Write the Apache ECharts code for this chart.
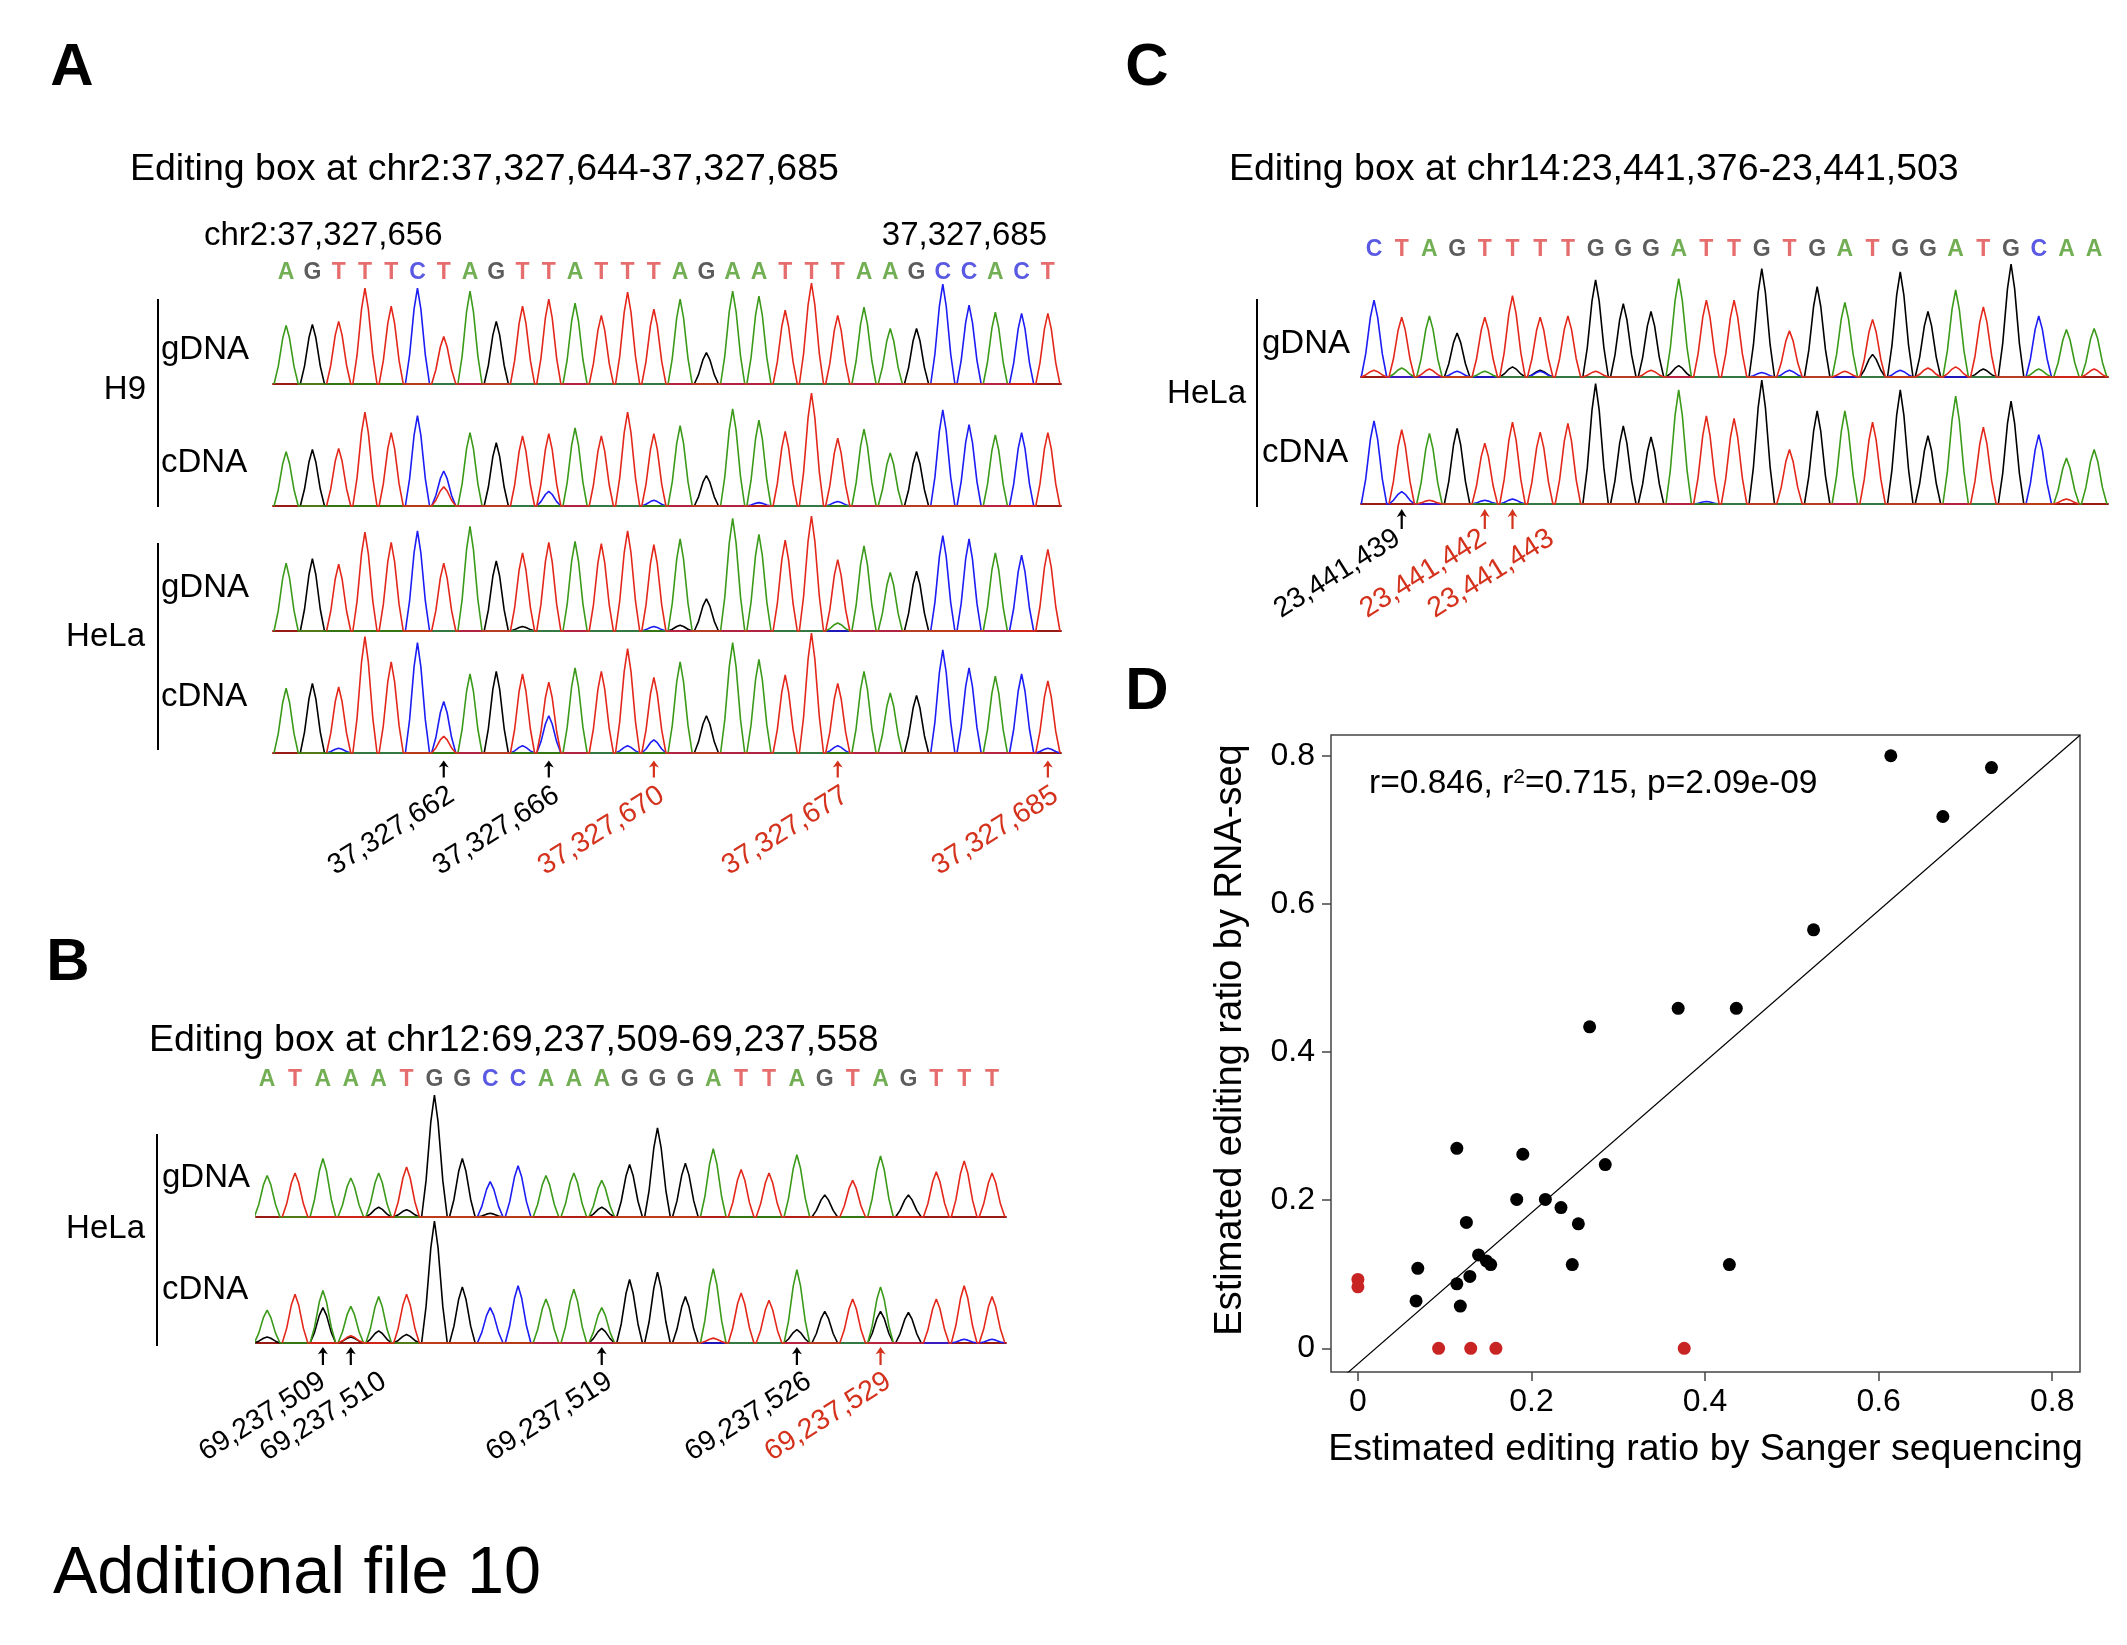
<!DOCTYPE html>
<html>
<head>
<meta charset="utf-8">
<script src="https://cdn.jsdelivr.net/npm/echarts@6/dist/echarts.min.js"></script>
<style>
  html, body { margin: 0; padding: 0; background: #fff; }
  #main { width: 2127px; height: 1645px; }
</style>
</head>
<body>
<div id="main"></div>
<script>
// ---- data: panel A (chr2) ----
const seqA = 'AGTTTCTAGTTATTTAGAATTTAAGCCACT';
const h9GdnaA = [0.58,0.59,0.62,0.95,0.77,0.95,0.47,0.92,0.62,0.77,0.84,0.80,0.68,0.91,0.74,0.84,0.31,0.92,0.87,0.73,1.00,0.68,0.76,0.55,0.55,0.99,0.78,0.71,0.70,0.70];
const h9CdnaA = [0.48,0.50,0.51,0.83,0.65,0.80,0.17,0.65,0.56,0.62,0.64,0.69,0.62,0.83,0.64,0.71,0.27,0.86,0.76,0.66,1.00,0.60,0.68,0.47,0.48,0.85,0.72,0.63,0.65,0.65];
const h9CdnaMinorA = [[7,'C',0.31],[11,'C',0.13],[15,'C',0.05],[19,'C',0.03],[22,'C',0.04]];
const helaGdnaA = [0.59,0.63,0.58,0.86,0.77,0.87,0.59,0.91,0.61,0.68,0.77,0.78,0.76,0.87,0.75,0.80,0.28,0.98,0.84,0.79,1.00,0.62,0.74,0.51,0.52,0.83,0.80,0.68,0.66,0.71];
const helaGdnaMinorA = [[10,'G',0.04],[15,'C',0.04],[16,'G',0.05],[22,'A',0.07]];
const helaCdnaA = [0.54,0.58,0.55,0.97,0.76,0.92,0.14,0.66,0.68,0.66,0.59,0.71,0.68,0.87,0.63,0.76,0.31,0.92,0.78,0.65,1.00,0.58,0.68,0.50,0.48,0.86,0.71,0.64,0.66,0.60];
const helaCdnaMinorA = [[3,'C',0.04],[7,'C',0.43],[10,'C',0.06],[11,'C',0.31],[14,'C',0.06],[15,'C',0.11],[22,'C',0.06],[30,'C',0.04]];
const sitesA = [[7,'37,327,662',false],[11,'37,327,666',false],[15,'37,327,670',true],[22,'37,327,677',true],[30,'37,327,685',true]];

// ---- data: panel B (chr12) ----
const seqB = 'ATAAATGGCCAAAGGGATTAGTAGTTT';
const gdnaB = [0.34,0.36,0.48,0.32,0.36,0.41,1.00,0.48,0.29,0.42,0.34,0.36,0.30,0.43,0.73,0.44,0.56,0.39,0.36,0.51,0.18,0.30,0.50,0.18,0.37,0.46,0.36];
const gdnaMinorB = [[5,'G',0.08],[6,'G',0.06],[9,'G',0.03],[13,'G',0.08]];
const cdnaB = [0.27,0.40,0.43,0.30,0.38,0.40,1.00,0.46,0.29,0.47,0.36,0.44,0.29,0.52,0.58,0.38,0.61,0.41,0.35,0.60,0.26,0.36,0.46,0.25,0.36,0.47,0.38];
const cdnaMinorB = [[1,'G',0.05],[3,'G',0.29],[4,'G',0.05],[4,'T',0.06],[5,'G',0.10],[6,'G',0.07],[13,'G',0.12],[17,'T',0.04],[20,'G',0.11],[23,'G',0.26],[26,'C',0.03],[27,'C',0.03]];
const sitesB = [[3,'69,237,509',false],[4,'69,237,510',false],[13,'69,237,519',false],[20,'69,237,526',false],[23,'69,237,529',true]];

// ---- data: panel C (chr14) ----
const seqC = 'CTAGTTTTGGGATTGTGATGGATGCAA';
const gdnaC = [0.68,0.53,0.54,0.39,0.53,0.72,0.53,0.54,0.86,0.65,0.58,0.87,0.68,0.68,0.96,0.41,0.80,0.66,0.51,0.93,0.58,0.77,0.62,1.00,0.54,0.42,0.43];
const gdnaMinorC = [[1,'T',0.06],[2,'A',0.08],[3,'T',0.07],[4,'C',0.05],[5,'A',0.05],[6,'G',0.09],[7,'G',0.06],[7,'C',0.05],[9,'T',0.05],[11,'T',0.06],[12,'G',0.10],[15,'C',0.04],[16,'C',0.06],[18,'T',0.05],[19,'G',0.20],[20,'C',0.06],[21,'T',0.08],[22,'T',0.09],[23,'G',0.07],[25,'A',0.07],[27,'T',0.07]];
const cdnaC = [0.67,0.60,0.57,0.61,0.49,0.66,0.58,0.65,0.97,0.63,0.54,0.92,0.71,0.69,1.00,0.44,0.75,0.75,0.66,0.92,0.55,0.87,0.62,0.83,0.56,0.37,0.44];
const cdnaMinorC = [[2,'C',0.10],[3,'T',0.03],[5,'C',0.03],[6,'C',0.04],[13,'C',0.02],[26,'T',0.04]];
const sitesC = [[2,'23,441,439',false],[5,'23,441,442',true],[6,'23,441,443',true]];

// ---- data: panel D (scatter) ----
const sangerBlack = [0.614,0.730,0.674,0.525,0.369,0.436,0.267,0.114,0.190,0.285,0.183,0.216,0.234,0.125,0.254,0.139,0.148,0.153,0.247,0.428,0.069,0.129,0.114,0.067,0.118];
const rnaBlack    = [0.800,0.784,0.718,0.565,0.459,0.459,0.434,0.270,0.262,0.248,0.201,0.201,0.190,0.170,0.168,0.126,0.118,0.113,0.113,0.113,0.108,0.097,0.087,0.064,0.057];
const sangerRed = [0, 0, 0.093, 0.130, 0.159, 0.376];
const rnaRed    = [0.093, 0.083, 0, 0, 0, 0];
const ticksD = [0, 0.2, 0.4, 0.6, 0.8];
const fitD = [-0.021, 1.02];   // intercept, slope

// ---- styles ----
const FONT = '"Liberation Sans", Arial, Helvetica, sans-serif';
const TRACE_COLOR = {A: '#3b9a1a', C: '#1c1cf5', G: '#000000', T: '#e3281b'};
const LETTER_COLOR = {A: '#4f9a28', C: '#3030dc', G: '#333333', T: '#e04848'};
const RED = '#d4321c';
// shape of one chromatogram peak (x offset in bases, fraction of height)
const PEAK = [[-0.46,0],[-0.3,0.3],[-0.13,0.78],[0,1],[0.13,0.78],[0.3,0.3],[0.46,0]];
const ARROW = 'path://M5,0 L10,9 L6.1,7 L6.1,22 L3.9,22 L3.9,7 L0,9 Z';
// hand placement of some position labels (pixels), as in the figure
const labelShift = {'69,237,509': [-8, 0], '69,237,510': [25, 0], '69,237,526': [4, 0], '23,441,442': [3, 0], '23,441,443': [43, 0]};

let myChart = echarts.init(document.getElementById('main'));

let grids = [], xAxes = [], yAxes = [], series = [], labelJobs = [];

function addTrack(box, seq, heights, minor) {
	let gi = grids.length;
	grids.push({left: box.left, top: box.top, width: box.width, height: box.height});
	xAxes.push({
		gridIndex: gi, type: 'value', min: box.range[0], max: box.range[1],
		axisLine: {show: true, onZero: false, lineStyle: {color: '#9a1a14', width: 2}},
		axisTick: {show: false}, axisLabel: {show: false}, splitLine: {show: false}
	});
	yAxes.push({gridIndex: gi, type: 'value', min: 0, max: 1, show: false, splitLine: {show: false}});

	let peaks = {A: [], C: [], G: [], T: []};
	seq.split('').forEach((b, i) => peaks[b].push([i + 1, heights[i]]));
	minor.forEach(m => peaks[m[1]].push([m[0], m[2]]));

	['G', 'C', 'A', 'T'].forEach(b => {
		let pts = [];
		peaks[b].sort((p, q) => p[0] - q[0]).forEach(([x, h]) => {
			PEAK.forEach(([dx, f]) => pts.push([x + dx, h * f]));
		});
		series.push({
			type: 'line', xAxisIndex: gi, yAxisIndex: gi, data: pts,
			showSymbol: false, symbol: 'none', clip: false, silent: true, animation: false,
			lineStyle: {color: TRACE_COLOR[b], width: 1.6}, z: 2
		});
	});
	return gi;
}

function addLetters(gi, seq, dy) {
	series.push({
		type: 'scatter', xAxisIndex: gi, yAxisIndex: gi, clip: false, silent: true, animation: false,
		symbolSize: 1, itemStyle: {color: 'rgba(0,0,0,0)'},
		data: seq.split('').map((b, i) => ({value: [i + 1, 1], label: {color: LETTER_COLOR[b]}})),
		label: {
			show: true, position: 'inside', offset: [0, dy],
			formatter: p => seq[p.dataIndex], fontSize: 23, fontWeight: 'bold', fontFamily: FONT
		}
	});
}

function addSites(gi, sites, arrowDy, arrowSize, dx, dy) {
	series.push({
		type: 'scatter', xAxisIndex: gi, yAxisIndex: gi, clip: false, silent: true, animation: false,
		symbol: ARROW, symbolSize: arrowSize, symbolOffset: [0, arrowDy], z: 5,
		itemStyle: {opacity: 1},
		data: sites.map(s => ({value: [s[0], 0], itemStyle: {color: s[2] ? RED : '#000'}}))
	});
	labelJobs.push({gi: gi, sites: sites, dx: dx, dy: dy});
}

// panel A
const boxA = {left: 273, width: 788, range: [0.5, 30.5]};
let a1 = addTrack(Object.assign({top: 283, height: 101}, boxA), seqA, h9GdnaA, []);
addTrack(Object.assign({top: 393, height: 113}, boxA), seqA, h9CdnaA, h9CdnaMinorA);
addTrack(Object.assign({top: 516, height: 115}, boxA), seqA, helaGdnaA, helaGdnaMinorA);
let a4 = addTrack(Object.assign({top: 633, height: 120}, boxA), seqA, helaCdnaA, helaCdnaMinorA);
addLetters(a1, seqA, -10);
addSites(a4, sitesA, 16, [10, 17], 8, 40);

// panel B
const boxB = {left: 256, width: 750, range: [0.6, 27.5]};
let b1 = addTrack(Object.assign({top: 1095, height: 122}, boxB), seqB, gdnaB, gdnaMinorB);
let b2 = addTrack(Object.assign({top: 1221, height: 122}, boxB), seqB, cdnaB, cdnaMinorB);
addLetters(b1, seqB, -15);
addSites(b2, sitesB, 13, [10, 18], 8, 36);

// panel C
const boxC = {left: 1361, width: 747, range: [0.53, 27.5]};
let c1 = addTrack(Object.assign({top: 264, height: 113}, boxC), seqC, gdnaC, gdnaMinorC);
let c2 = addTrack(Object.assign({top: 380, height: 124}, boxC), seqC, cdnaC, cdnaMinorC);
addLetters(c1, seqC, -14);
addSites(c2, sitesC, 15, [10, 20], -4, 32);

// panel D
let gd = grids.length;
grids.push({left: 1331, top: 735, width: 749, height: 637, show: true, borderColor: '#444', borderWidth: 1.5, backgroundColor: 'transparent'});
xAxes.push({
	gridIndex: gd, type: 'value', min: -0.031, max: 0.832,
	axisLine: {show: false, onZero: false},
	axisTick: {show: true, length: 9, customValues: ticksD, lineStyle: {color: '#444', width: 1.5}},
	axisLabel: {customValues: ticksD, formatter: v => String(v), fontSize: 32, margin: 14, color: '#000', fontFamily: FONT},
	splitLine: {show: false},
	name: 'Estimated editing ratio by Sanger sequencing', nameLocation: 'middle', nameGap: 59,
	nameTextStyle: {fontSize: 37.5, color: '#000', fontFamily: FONT}
});
yAxes.push({
	gridIndex: gd, type: 'value', min: -0.032, max: 0.828,
	axisLine: {show: false, onZero: false},
	axisTick: {show: true, length: 9, customValues: ticksD, lineStyle: {color: '#444', width: 1.5}},
	axisLabel: {customValues: ticksD, formatter: v => String(v), fontSize: 32, margin: 16, color: '#000', fontFamily: FONT},
	splitLine: {show: false}
});
series.push({
	type: 'line', xAxisIndex: gd, yAxisIndex: gd, clip: true, silent: true, animation: false,
	showSymbol: false, symbol: 'none', lineStyle: {color: '#000', width: 1.2}, z: 2,
	data: [-0.031, 0.832].map(x => [x, fitD[0] + fitD[1] * x])
});
series.push({
	type: 'scatter', xAxisIndex: gd, yAxisIndex: gd, symbolSize: 13, animation: false, z: 3,
	itemStyle: {color: '#000', opacity: 1}, data: sangerBlack.map((x, i) => [x, rnaBlack[i]])
});
series.push({
	type: 'scatter', xAxisIndex: gd, yAxisIndex: gd, symbolSize: 13, animation: false, z: 3,
	itemStyle: {color: '#c82424', opacity: 1}, data: sangerRed.map((x, i) => [x, rnaRed[i]])
});

// texts and brackets
function txt(x, y, text, size) {
	return {
		type: 'text', x: x, y: y,
		style: {text: text, fontSize: size, fontFamily: FONT, fill: '#000', align: 'left', verticalAlign: 'middle'}
	};
}
function txtR(x, y, text, size) {
	let t = txt(x, y, text, size);
	t.style.align = 'right';
	return t;
}
function vline(x, y1, y2) {
	return {type: 'line', shape: {x1: x, y1: y1, x2: x, y2: y2}, style: {stroke: '#000', lineWidth: 2}};
}
function panelLetter(x, y, t) {
	let e = txt(x, y, t, 60);
	e.style.align = 'center';
	e.style.fontWeight = 'bold';
	return e;
}

let yTitle = txt(1231, 1040, 'Estimated editing ratio by RNA-seq', 38);
yTitle.style.align = 'center';
yTitle.rotation = Math.PI / 2;

let graphics = [
	panelLetter(72, 68, 'A'), panelLetter(68, 963, 'B'),
	panelLetter(1147, 68, 'C'), panelLetter(1147, 692, 'D'),
	txt(53, 1575, 'Additional file 10', 66.5),

	txt(130, 170, 'Editing box at chr2:37,327,644-37,327,685', 37.5),
	txt(204, 236, 'chr2:37,327,656', 33),
	txtR(1047, 236, '37,327,685', 33),
	vline(158, 299, 507), vline(158, 543, 750),
	txtR(146, 390, 'H9', 33), txtR(145, 637, 'HeLa', 33),
	txt(161, 350, 'gDNA', 33), txt(161, 463, 'cDNA', 33),
	txt(161, 588, 'gDNA', 33), txt(161, 697, 'cDNA', 33),

	txt(149, 1041, 'Editing box at chr12:69,237,509-69,237,558', 37.5),
	vline(157, 1134, 1346),
	txtR(145, 1229, 'HeLa', 33),
	txt(162, 1178, 'gDNA', 33), txt(162, 1290, 'cDNA', 33),

	txt(1229, 170, 'Editing box at chr14:23,441,376-23,441,503', 37.5),
	vline(1257, 299, 507),
	txtR(1246, 394, 'HeLa', 33),
	txt(1262, 344, 'gDNA', 33), txt(1262, 453, 'cDNA', 33),

	yTitle,
	{
		type: 'text', x: 1369, y: 784,
		style: {
			text: '{n|r=0.846, r}{s|2}{n|=0.715, p=2.09e-09}', verticalAlign: 'middle', align: 'left',
			rich: {
				n: {fontSize: 33.5, fontFamily: FONT, fill: '#000'},
				s: {fontSize: 21, fontFamily: FONT, fill: '#000', verticalAlign: 'top'}
			}
		}
	}
];

let option = {
	backgroundColor: '#fff',
	animation: false,
	grid: grids,
	xAxis: xAxes,
	yAxis: yAxes,
	series: series,
	graphic: graphics
};

myChart.setOption(option);

// position labels under the arrows, placed through the track scales
labelJobs.forEach(j => {
	j.sites.forEach(s => {
		let p = myChart.convertToPixel({gridIndex: j.gi}, [s[0], 0]);
		let sh = labelShift[s[1]] || [0, 0];
		graphics.push({
			type: 'text', x: p[0] + j.dx + sh[0], y: p[1] + j.dy + sh[1], rotation: 32 * Math.PI / 180,
			style: {text: s[1], fontSize: 28.5, fontFamily: FONT, fill: s[2] ? RED : '#000', align: 'right', verticalAlign: 'middle'}
		});
	});
});
myChart.setOption({graphic: graphics});
</script>
</body>
</html>
